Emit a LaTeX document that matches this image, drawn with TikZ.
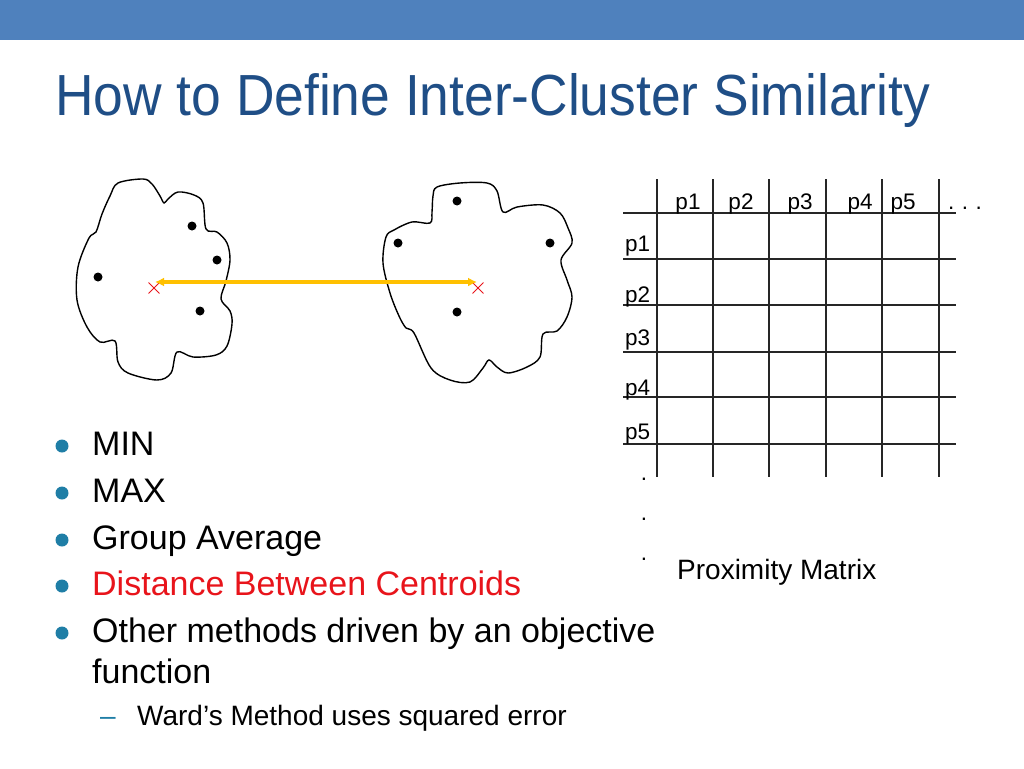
\documentclass[tikz,border=0pt]{standalone}
\usepackage{fontspec}
\setmainfont{Liberation Sans}
\newfontfamily\titlefont{Liberation Sans}[FakeStretch=0.92]
\usetikzlibrary{arrows.meta,positioning,shapes.misc}
\definecolor{barblue}{HTML}{4F81BD}
\definecolor{titleblue}{HTML}{1F4E86}
\definecolor{bulletteal}{HTML}{1F7EA6}
\definecolor{hotred}{HTML}{E8141B}
\definecolor{gold}{HTML}{FFC000}
\tikzset{>=Latex,
  blob/.style={draw=black,line width=1.4pt,smooth cycle,tension=.55},
  member/.style={circle,fill=black,inner sep=0pt,minimum size=9pt},
  centroid/.style={cross out,draw=hotred,line width=.9pt,inner sep=0pt,minimum size=10pt},
  link/.style={draw=gold,line width=3.5pt,arrows={Latex[length=9pt,width=9pt]-Latex[length=9pt,width=9pt]}},
  dot/.style={circle,fill=bulletteal,inner sep=0pt,minimum size=13pt},
  item/.style={anchor=base west,inner sep=0pt,font=\fontsize{34}{40}\selectfont},
  subitem/.style={anchor=base west,inner sep=0pt,font=\fontsize{28}{33}\selectfont},
  cell/.style={anchor=base,inner sep=0pt,font=\fontsize{22.5}{27}\selectfont},
  rowlab/.style={anchor=base west,inner sep=0pt,font=\fontsize{22.5}{27}\selectfont},
  gridline/.style={draw=black!85,line width=1.3pt}}
\begin{document}
\begin{tikzpicture}[x=1pt,y=-1pt]
\useasboundingbox (0,0) rectangle (1024,768);
\fill[barblue] (0,0) rectangle (1024,40);
\node[anchor=base west,inner sep=0pt,text=titleblue,font=\titlefont\fontsize{58}{68}\selectfont] (title) at (55,115) {How to Define Inter-Cluster Similarity};
% clusters
\draw[blob] plot coordinates {(118,183) (143,179) (152,184) (160,196) (164,203) (168,199) (178,192) (194,195) (203,203) (206,229) (217,232) (227,243) (230,260) (226,281) (221,299) (230,311) (232,324) (227,346) (216,355) (193,357) (177,352) (171,373) (157,380) (128,373) (118,362) (115,341) (100,342) (87,327) (77,300) (78,267) (89,238) (96,232) (102,214) (110,196)};
\draw[blob] plot coordinates {(433,196) (437,187) (460,183) (487,183) (497,191) (503,212) (517,207) (543,205) (560,213) (568,228) (572,243) (561,260) (567,280) (572,297) (567,317) (557,331) (543,334) (540,357) (527,367) (508,373) (497,367) (489,360) (483,368) (470,382) (450,380) (431,368) (414,333) (406,328) (399,316) (390,293) (383,263) (386,237) (394,230) (412,222) (430,223) (432,212)};
\node[member] (l1) at (192,226) {};\node[member] (l2) at (217,260) {};
\node[member] (l3) at (98,277) {};\node[member] (l4) at (200,311) {};
\node[member] (r1) at (457,201) {};\node[member] (r2) at (398,243) {};
\node[member] (r3) at (550,243) {};\node[member] (r4) at (457,312) {};
\node[centroid] (cl) at (154,288) {};\node[centroid] (cr) at (478,288) {};
\coordinate (al) at (155,282);\coordinate (ar) at (477,282);
\draw[link] (al) -- (ar);
% bullets
\node[dot] (b1) at (62,446) {};\node[item] (t1) at (92,455) {MIN};
\node[dot] (b2) at (62,493) {};\node[item] (t2) at (92,502) {MAX};
\node[dot] (b3) at (62,540) {};\node[item] (t3) at (92,549) {Group Average};
\node[dot] (b4) at (62,586) {};\node[item,text=hotred] (t4) at (92,595) {Distance Between Centroids};
\node[dot] (b5) at (62,633) {};\node[item] (t5) at (92,642) {Other methods driven by an objective};
\node[item] (t6) at (92,683) {function};
\node[subitem,text=bulletteal] (d7) at (100,725) {–};\node[subitem] (t7) at (137,725) {Ward’s Method uses squared error};
% proximity matrix
\foreach \x in {657,713,769,826,882,939} \draw[gridline] (\x,179) -- (\x,477);
\foreach \y in {213,259,305,352,397,444} \draw[gridline] (623,\y) -- (956,\y);
\node[cell] (c1) at (688,209) {p1};\node[cell] (c2) at (741,209) {p2};
\node[cell] (c3) at (800,209) {p3};\node[cell] (c4) at (860,209) {p4};
\node[cell] (c5) at (903,209) {p5};\node[cell] (cdots) at (965,209) {.\,\,.\,\,.};
\node[rowlab] (p1) at (625,251) {p1};\node[rowlab] (p2) at (625,302) {p2};
\node[rowlab] (p3) at (625,345) {p3};\node[rowlab] (p4) at (625,395) {p4};
\node[rowlab] (p5) at (625,439) {p5};
\node[cell] (v1) at (644,480) {.};\node[cell] (v2) at (644,520) {.};\node[cell] (v3) at (644,560) {.};
\node[anchor=base west,inner sep=0pt,font=\fontsize{28}{33}\selectfont] (cap) at (677,579) {Proximity Matrix};
\end{tikzpicture}
\end{document}
